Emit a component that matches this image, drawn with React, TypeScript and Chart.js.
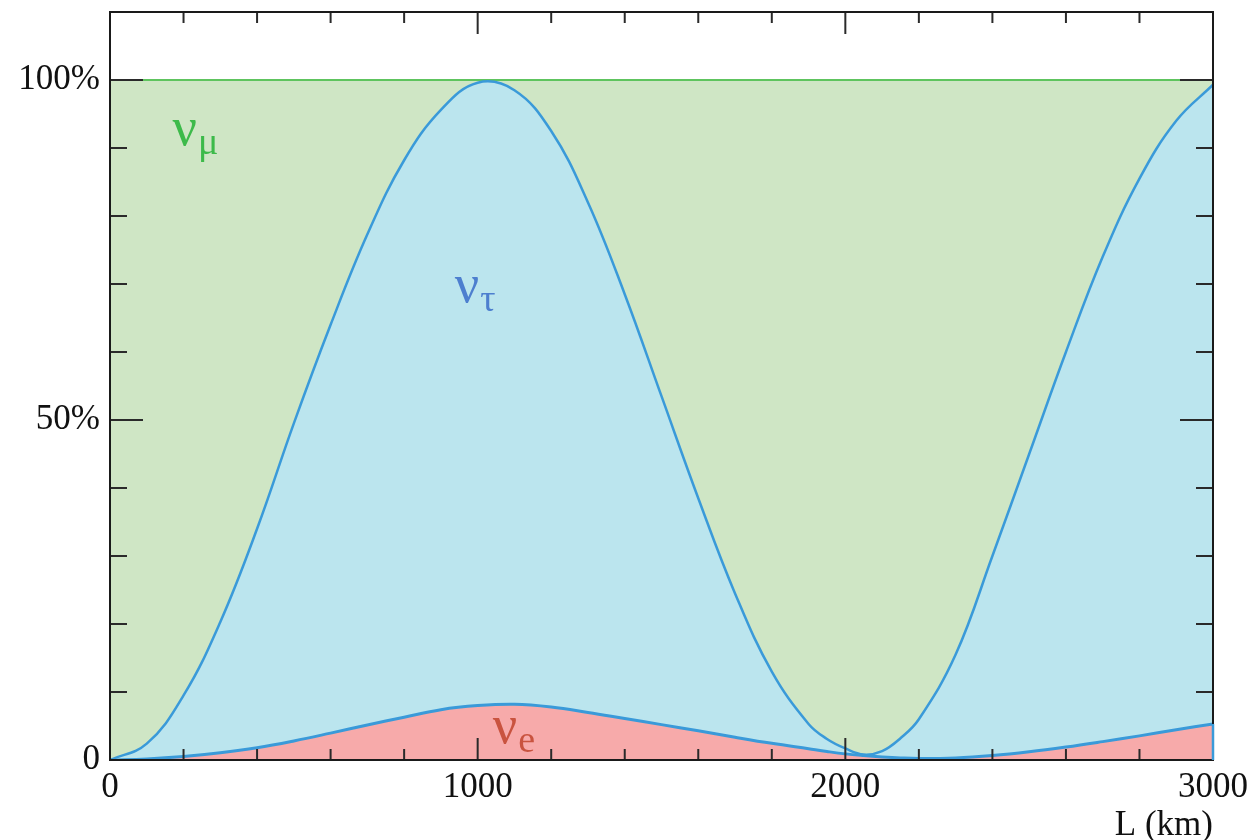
import { useEffect, useRef } from "react";
import { Chart, registerables } from "chart.js";

Chart.register(...registerables);

// Baseline distance L (km)
const distanceKm = [
  0, 100, 200, 300, 400, 500, 600, 700, 800, 900, 1000, 1100, 1200, 1300, 1400, 1500,
  1600, 1700, 1800, 1900, 1950, 2000, 2050, 2100, 2150, 2200, 2300, 2400, 2500, 2600,
  2700, 2800, 2900, 3000,
];

// Cumulative probability (%) nu_e + nu_tau (top of blue band)
const nuEPlusTau = [
  0, 2.4, 9.5, 20.3, 34, 49.5, 64, 77.3, 88.2, 95.6, 99.6, 98.5, 92.5, 82, 68.5, 53.5,
  38.5, 24.5, 13, 5.3, 3.1, 1.7, 0.8, 1.3, 3.2, 6.0, 15.5, 30, 45, 60,
  74, 85.5, 94, 99.3,
];

// Probability (%) nu_e (top of red band)
const nuE = [
  0, 0.15, 0.5, 1.05, 1.8, 2.8, 3.95, 5.15, 6.3, 7.4, 8.0, 8.2, 7.8, 7.0, 6.1, 5.2,
  4.3, 3.35, 2.45, 1.65, 1.25, 0.9, 0.65, 0.45, 0.3, 0.22, 0.3, 0.65, 1.2, 1.9,
  2.7, 3.55, 4.45, 5.3,
];

// Total (nu_mu fills up to 100 %)
const totalPct = distanceKm.map(() => 100);

// Tick marks
const xMinorTicks = [200, 400, 600, 800, 1200, 1400, 1600, 1800, 2200, 2400, 2600, 2800];
const xMajorTicks = [1000, 2000];
const xLabelTicks = [0, 1000, 2000, 3000];
const yMinorTicks = [10, 20, 30, 40, 60, 70, 80, 90];
const yMajorTicks = [50, 100];
const yLabels: Record<number, string> = { 0: "0", 50: "50%", 100: "100%" };

const FONT = '"Liberation Serif", "DejaVu Serif", serif';

const flavourLabels = [
  { base: "ν", sub: "μ", L: 170, pct: 90.5, color: "#3dba4a" },
  { base: "ν", sub: "τ", L: 938, pct: 67.3, color: "#4d7fcf" },
  { base: "ν", sub: "e", L: 1041, pct: 2.5, color: "#c9533f" },
];

const BLUE_LINE = "#3a9ad9";

const toPoints = (ys: number[]) => distanceKm.map((x, i) => ({ x, y: ys[i] }));

export default function App() {
  const canvasRef = useRef<HTMLCanvasElement | null>(null);

  useEffect(() => {
    document.body.style.margin = "0";
    const canvas = canvasRef.current;
    if (!canvas) return;

    const overlay = {
      id: "overlay",
      afterDatasetsDraw(chart: any) {
        const ctx = chart.ctx;
        const xs = chart.scales.x;
        const ys = chart.scales.y;
        ctx.save();
        ctx.textBaseline = "alphabetic";
        ctx.textAlign = "left";
        for (const lab of flavourLabels) {
          const px = xs.getPixelForValue(lab.L);
          const py = ys.getPixelForValue(lab.pct);
          ctx.fillStyle = lab.color;
          ctx.font = `54px ${FONT}`;
          ctx.fillText(lab.base, px, py);
          const w = ctx.measureText(lab.base).width;
          ctx.font = `38px ${FONT}`;
          ctx.fillText(lab.sub, px + w + 1, py + 9);
        }
        ctx.restore();
      },
      afterDraw(chart: any) {
        const ctx = chart.ctx;
        const a = chart.chartArea;
        const xs = chart.scales.x;
        const ys = chart.scales.y;
        ctx.save();
        ctx.strokeStyle = "#2a2a2a";
        ctx.lineWidth = 2;
        ctx.lineCap = "butt";
        const line = (x1: number, y1: number, x2: number, y2: number) => {
          ctx.beginPath();
          ctx.moveTo(x1, y1);
          ctx.lineTo(x2, y2);
          ctx.stroke();
        };
        for (const v of xMinorTicks) {
          const p = xs.getPixelForValue(v);
          line(p, a.bottom, p, a.bottom - 11);
          line(p, a.top, p, a.top + 11);
        }
        for (const v of xMajorTicks) {
          const p = xs.getPixelForValue(v);
          line(p, a.bottom, p, a.bottom - 22);
          line(p, a.top, p, a.top + 22);
        }
        for (const v of yMinorTicks) {
          const p = ys.getPixelForValue(v);
          line(a.left, p, a.left + 17, p);
          line(a.right, p, a.right - 17, p);
        }
        for (const v of yMajorTicks) {
          const p = ys.getPixelForValue(v);
          line(a.left, p, a.left + 33, p);
          line(a.right, p, a.right - 33, p);
        }
        ctx.strokeStyle = "#1a1a1a";
        ctx.lineWidth = 2;
        ctx.strokeRect(a.left, a.top, a.right - a.left, a.bottom - a.top);
        // blue outline of the last band edge at the right border
        const xEnd = xs.getPixelForValue(distanceKm[distanceKm.length - 1]);
        const yTop = ys.getPixelForValue(nuE[nuE.length - 1]);
        ctx.strokeStyle = BLUE_LINE;
        ctx.lineWidth = 2.5;
        line(xEnd, yTop, xEnd, a.bottom);
        ctx.restore();
      },
    };

    const chart = new Chart(canvas, {
      type: "line",
      data: {
        datasets: [
          {
            label: "νe",
            data: toPoints(nuE),
            borderColor: BLUE_LINE,
            borderWidth: 3,
            backgroundColor: "#f7aaaa",
            fill: "origin",
            pointRadius: 0,
            tension: 0.4,
          },
          {
            label: "ντ",
            data: toPoints(nuEPlusTau),
            borderColor: BLUE_LINE,
            borderWidth: 2.5,
            backgroundColor: "#bbe5ee",
            fill: "origin",
            pointRadius: 0,
            tension: 0.4,
          },
          {
            label: "νμ",
            data: toPoints(totalPct),
            borderColor: "#5ec45e",
            borderWidth: 2,
            backgroundColor: "#cfe6c5",
            fill: "origin",
            pointRadius: 0,
          },
        ],
      },
      options: {
        responsive: false,
        animation: false,
        layout: { padding: { left: 0, right: 39, top: 12, bottom: 0 } },
        plugins: {
          legend: { display: false },
          tooltip: { enabled: false },
        },
        scales: {
          x: {
            type: "linear",
            min: 0,
            max: 3000,
            afterBuildTicks: (scale: any) => {
              scale.ticks = xLabelTicks.map((v) => ({ value: v }));
            },
            afterFit: (scale: any) => {
              scale.height = 80;
              scale.paddingLeft = 0;
              scale.paddingRight = 0;
            },
            grid: { display: false, drawTicks: false },
            border: { display: false },
            ticks: {
              autoSkip: false,
              maxRotation: 0,
              padding: 7,
              color: "#111",
              font: { family: FONT, size: 35 },
              callback: (v: any) => String(v),
            },
            title: {
              display: true,
              text: "L (km)",
              align: "end",
              color: "#111",
              font: { family: FONT, size: 35 },
              padding: { top: 0, bottom: -7 },
            },
          },
          y: {
            type: "linear",
            min: 0,
            max: 110,
            afterBuildTicks: (scale: any) => {
              scale.ticks = Object.keys(yLabels).map((k) => ({ value: Number(k) }));
            },
            afterFit: (scale: any) => {
              scale.width = 110;
              scale.paddingTop = 0;
              scale.paddingBottom = 0;
            },
            grid: { display: false, drawTicks: false },
            border: { display: false },
            ticks: {
              autoSkip: false,
              padding: 10,
              color: "#111",
              font: { family: FONT, size: 35 },
              callback: (v: any) => yLabels[Number(v)] ?? "",
            },
          },
        },
      },
      plugins: [overlay],
    } as any);

    return () => chart.destroy();
  }, []);

  return (
    <div style={{ width: 1252, height: 840, background: "#fff" }}>
      <canvas ref={canvasRef} width={1252} height={840} />
    </div>
  );
}
